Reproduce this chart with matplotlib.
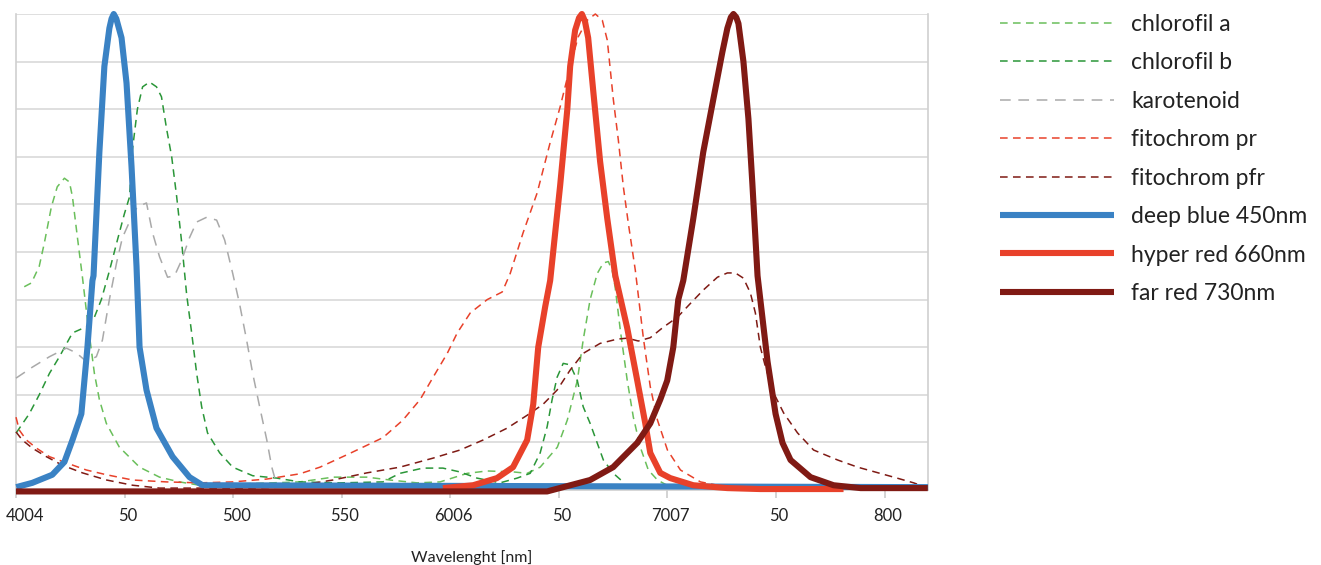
import matplotlib.pyplot as plt
import matplotlib.transforms as mtransforms

plt.rcParams["font.family"] = ["Lato", "DejaVu Sans"]

# wavelength [nm] / relative value
chl_a_nm = [403.8, 407.1, 410.7, 413.1, 416.3, 419.0, 422.3, 424.6, 426.0, 428.3,
            430.6, 432.9, 436.1, 438.4, 441.6, 447.6, 456.9, 466.1, 475.3, 484.6,
            530.7, 546.0, 561.6, 572.2, 584.7, 595.3, 607.8, 617.0, 629.0, 635.4,
            641.4, 649.3, 653.9, 658.5, 661.2, 664.4, 667.7, 670.5, 672.8, 674.6,
            675.9, 678.3, 681.5, 684.3, 687.5, 691.2, 695.4, 701.4]
chl_a_val = [0.427, 0.435, 0.47, 0.52, 0.595, 0.637, 0.655, 0.647, 0.616, 0.53,
             0.447, 0.357, 0.245, 0.19, 0.14, 0.09, 0.048, 0.027, 0.017, 0.01,
             0.017, 0.027, 0.027, 0.021, 0.015, 0.017, 0.035, 0.04, 0.038, 0.035,
             0.048, 0.09, 0.147, 0.23, 0.315, 0.40, 0.455, 0.477, 0.48, 0.46,
             0.427, 0.336, 0.23, 0.153, 0.09, 0.042, 0.021, 0.006]

chl_b_nm = [400.1, 406.1, 410.7, 415.4, 420.0, 426.0, 432.4, 436.1, 439.3, 443.0,
            446.7, 449.9, 452.3, 453.6, 455.9, 458.3, 461.5, 464.7, 467.0, 469.3,
            471.7, 474.0, 476.3, 478.6, 480.9, 483.2, 485.5, 488.2, 493.8, 499.8,
            509.0, 520.1, 530.7, 549.1, 569.0, 576.8, 587.4, 596.6, 604.4, 612.3,
            622.9, 630.8, 636.8, 641.4, 644.6, 646.9, 649.2, 652.0, 655.2, 658.5,
            661.2, 664.4, 670.5, 675.1, 679.3]
chl_b_val = [0.12, 0.16, 0.20, 0.245, 0.28, 0.33, 0.343, 0.363, 0.40, 0.46,
             0.525, 0.58, 0.616, 0.714, 0.80, 0.847, 0.857, 0.847, 0.826, 0.76,
             0.70, 0.616, 0.52, 0.41, 0.33, 0.245, 0.175, 0.12, 0.078, 0.048,
             0.03, 0.025, 0.017, 0.015, 0.017, 0.035, 0.046, 0.046, 0.038, 0.025,
             0.015, 0.025, 0.035, 0.078, 0.133, 0.19, 0.237, 0.266, 0.263, 0.23,
             0.175, 0.14, 0.063, 0.035, 0.018]

karo_nm = [400.0, 407.5, 415.4, 423.2, 427.8, 432.4, 437.0, 439.8, 443.0, 446.3,
           449.0, 453.2, 455.9, 460.1, 462.9, 466.1, 469.8, 473.0, 476.3, 479.9,
           483.2, 487.8, 492.4, 496.1, 499.8, 503.0, 506.2, 509.0, 512.2, 515.5,
           517.8, 520.1]
karo_val = [0.235, 0.258, 0.28, 0.298, 0.288, 0.27, 0.28, 0.315, 0.40, 0.477,
            0.53, 0.573, 0.595, 0.603, 0.54, 0.49, 0.447, 0.45, 0.483, 0.53,
            0.563, 0.573, 0.567, 0.525, 0.455, 0.39, 0.315, 0.245, 0.175, 0.105,
            0.048, 0.01]

pr_nm = [400.0, 401.5, 404.8, 409.4, 415.4, 423.2, 432.4, 441.7, 453.7, 469.3,
         484.6, 499.8, 515.5, 530.7, 540.0, 553.8, 569.0, 578.2, 586.1, 592.1,
         598.6, 603.2, 609.2, 617.0, 623.9, 627.6, 633.5, 640.0, 646.0, 650.6,
         655.2, 658.9, 663.1, 666.8, 670.0, 672.3, 675.1, 677.4, 679.7, 682.0,
         685.2, 688.9, 692.1, 695.4, 700.0, 706.0, 715.2, 727.6, 742.8]
pr_val = [0.153, 0.126, 0.105, 0.088, 0.07, 0.057, 0.042, 0.032, 0.021, 0.017,
          0.015, 0.017, 0.023, 0.034, 0.048, 0.077, 0.11, 0.147, 0.19, 0.237,
          0.287, 0.33, 0.372, 0.40, 0.416, 0.455, 0.54, 0.624, 0.73, 0.805,
          0.89, 0.952, 0.987, 1.0, 0.987, 0.945, 0.82, 0.735, 0.637, 0.56,
          0.462, 0.32, 0.217, 0.147, 0.084, 0.042, 0.017, 0.006, 0.004]

pfr_nm = [400.0, 402.9, 407.5, 414.0, 421.4, 430.6, 441.7, 453.7, 466.1, 507.6,
          522.8, 530.7, 546.0, 561.6, 576.8, 592.1, 604.5, 615.1, 626.2, 635.4,
          642.7, 649.2, 655.2, 661.2, 669.0, 676.9, 681.5, 686.6, 692.1, 698.1,
          704.6, 710.6, 716.5, 723.0, 727.6, 731.3, 735.0, 738.2, 740.5, 742.8,
          745.2, 748.9, 753.5, 759.9, 767.3, 778.4, 787.6, 804.2, 813.4, 819.9]
pfr_val = [0.122, 0.105, 0.088, 0.07, 0.052, 0.036, 0.021, 0.01, 0.004, 0.004,
           0.006, 0.01, 0.021, 0.036, 0.048, 0.067, 0.084, 0.105, 0.13, 0.157,
           0.18, 0.21, 0.252, 0.287, 0.308, 0.317, 0.319, 0.313, 0.32, 0.342,
           0.363, 0.392, 0.42, 0.447, 0.456, 0.456, 0.445, 0.414, 0.372, 0.30,
           0.258, 0.204, 0.162, 0.12, 0.084, 0.063, 0.048, 0.027, 0.015, 0.004]

blue_nm = [400.1, 407.5, 416.7, 422.3, 426.0, 430.1, 432.9, 435.2, 435.7, 438.4,
           440.7, 443.0, 444.0, 445.0, 446.2, 448.6, 450.9, 453.2, 455.5, 456.9,
           460.1, 464.7, 472.1, 479.9, 485.9, 820.0]
blue_val = [0.006, 0.015, 0.032, 0.059, 0.105, 0.16, 0.30, 0.44, 0.45, 0.71,
            0.89, 0.97, 0.99, 1.0, 0.99, 0.95, 0.855, 0.68, 0.47, 0.30,
            0.21, 0.13, 0.07, 0.027, 0.01, 0.006]

red_nm = [596.6, 610.5, 621.5, 628.9, 635.4, 638.2, 640.5, 643.7, 646.0, 650.6,
          653.9, 655.2, 657.5, 659.3, 660.6, 662.0, 663.5, 665.8, 669.0, 672.3,
          676.0, 681.5, 686.1, 689.8, 692.1, 696.7, 701.3, 711.9, 727.6, 742.8,
          781.1]
red_val = [0.004, 0.01, 0.025, 0.048, 0.105, 0.18, 0.30, 0.385, 0.44, 0.64,
           0.80, 0.89, 0.966, 0.992, 1.0, 0.985, 0.95, 0.84, 0.69, 0.57,
           0.45, 0.34, 0.23, 0.14, 0.078, 0.036, 0.025, 0.01, 0.004, 0.002,
           0.002]

farred_nm = [400.0, 644.6, 652.0, 664.4, 675.0, 686.1, 692.1, 696.7, 699.9, 702.7,
             705.0, 707.3, 711.9, 716.5, 721.1, 725.3, 727.6, 729.2, 730.4, 731.7,
             732.7, 735.0, 737.3, 739.1, 741.5, 746.1, 749.8, 753.0, 756.7, 765.9,
             776.5, 789.0, 819.9]
farred_val = [-0.003, -0.003, 0.006, 0.021, 0.048, 0.099, 0.14, 0.19, 0.23, 0.30,
              0.40, 0.44, 0.57, 0.71, 0.82, 0.92, 0.97, 0.993, 1.0, 0.993,
              0.98, 0.90, 0.78, 0.645, 0.45, 0.27, 0.16, 0.099, 0.063, 0.027,
              0.01, 0.004, 0.004]

tick_pos = [400, 450, 500, 550, 600, 650, 700, 750, 800]
tick_labels = ["4004", "50", "500", "550", "6006", "50", "7007", "50", "800"]

fig = plt.figure(figsize=(13.21, 5.65), dpi=100)
ax = fig.add_axes([16 / 1321, 1 - 490 / 565, 912 / 1321, 476 / 565])

dash_kw = dict(lw=1.1, clip_on=False, zorder=3)
ax.plot(chl_a_nm, chl_a_val, color="#6abf5b", dashes=(5, 3.5), label="chlorofil a", **dash_kw)
ax.plot(chl_b_nm, chl_b_val, color="#2a9638", dashes=(5, 3.5), label="chlorofil b", **dash_kw)
ax.plot(karo_nm, karo_val, color="#a9a9a9", dashes=(7, 5), label="karotenoid", **dash_kw)
ax.plot(pr_nm, pr_val, color="#e8412a", dashes=(5, 3.5), label="fitochrom pr", **dash_kw)
ax.plot(pfr_nm, pfr_val, color="#7f1a14", dashes=(5, 3.5), label="fitochrom pfr", **dash_kw)

solid_kw = dict(lw=4.4, clip_on=False, zorder=4, solid_joinstyle="round", solid_capstyle="butt")
ax.plot(blue_nm, blue_val, color="#3a82c4", label="deep blue 450nm", **solid_kw)
ax.plot(red_nm, red_val, color="#e8412a", label="hyper red 660nm", **solid_kw)
ax.plot(farred_nm, farred_val, color="#801a14", label="far red 730nm", **solid_kw)

ax.set_xlim(400, 820)
ax.set_ylim(0, 1)
ax.set_yticks([i / 10 for i in range(11)])
ax.set_yticklabels([])
ax.tick_params(axis="y", length=0)
ax.grid(axis="y", color="#d6d6d6", lw=1.1)
ax.set_axisbelow(True)

ax.set_xticks(tick_pos)
ax.set_xticklabels(tick_labels, fontsize=12, color="#222222")
ax.tick_params(axis="x", length=6, width=1.2, color="#cccccc", pad=7)
for i, lbl in enumerate(ax.get_xticklabels()):
    shift = 9 if i == 0 else 3
    lbl.set_transform(lbl.get_transform() + mtransforms.ScaledTranslation(shift / 100, 0, fig.dpi_scale_trans))
for side in ["left", "right", "bottom"]:
    ax.spines[side].set_color("#d0d0d0")
    ax.spines[side].set_linewidth(1.2)
ax.spines["top"].set_visible(False)

ax.set_xlabel("Wavelenght [nm]", fontsize=11.5, color="#222222", labelpad=19)

fig.legend(loc="upper left", bbox_to_anchor=(1000 / 1321, 1 - 14 / 565),
           frameon=False, fontsize=16.5, handlelength=4.98, handletextpad=0.74,
           labelspacing=0.76, borderpad=0, borderaxespad=0, labelcolor="#222222")

fig.savefig("out.png", dpi=100)
